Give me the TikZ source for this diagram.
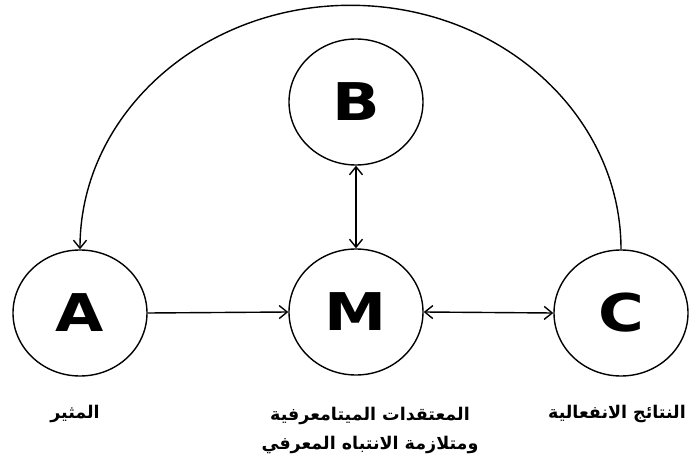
\documentclass[tikz,border=0pt]{standalone}
\usepackage{fontspec}
\usetikzlibrary{arrows.meta,shapes.geometric}
\TeXXeTstate=1
\newfontfamily\arabicfont[Script=Arabic]{DejaVu Sans Bold}
\newfontfamily\letterfont[FakeStretch=1.2]{DejaVu Sans Bold}
\begin{document}
\begin{tikzpicture}[x=1pt,y=1pt,
  bubble/.style={draw, line width=1.4pt, ellipse, minimum width=134pt, minimum height=126pt, inner sep=0pt,
    font=\letterfont\fontsize{52}{56}\selectfont},
  arr/.style={line width=1.4pt, -{Straight Barb[length=8pt,width=13pt]}},
  darr/.style={line width=1.4pt, {Straight Barb[length=8pt,width=13pt]}-{Straight Barb[length=8pt,width=13pt]}},
  lbl/.style={font=\arabicfont\fontsize{17.5}{29}\selectfont, align=center, inner sep=0pt}]
\useasboundingbox (0,0) rectangle (697,475);
\node[bubble] (A) at (80,162) {A};
\node[bubble] (M) at (356,163) {M};
\node[bubble] (C) at (621,162) {C};
\node[bubble] (B) at (356,373) {B};
\draw[arr] (A.east) -- (M.west);
\draw[darr] (M.east) -- (C.west);
\draw[darr] (B.south) -- (M.north);
\draw[arr] (C.north) arc[start angle=0, end angle=180, x radius=270.5, y radius=244];
\node[lbl] (la) at (75,61) {\beginR المثير\endR};
\node[lbl] (lm) at (370,45) {\beginR المعتقدات الميتامعرفية\endR\\\beginR ومتلازمة الانتباه المعرفي\endR};
\node[lbl] (lc) at (617,61) {\beginR النتائج الانفعالية\endR};
\end{tikzpicture}
\end{document}
